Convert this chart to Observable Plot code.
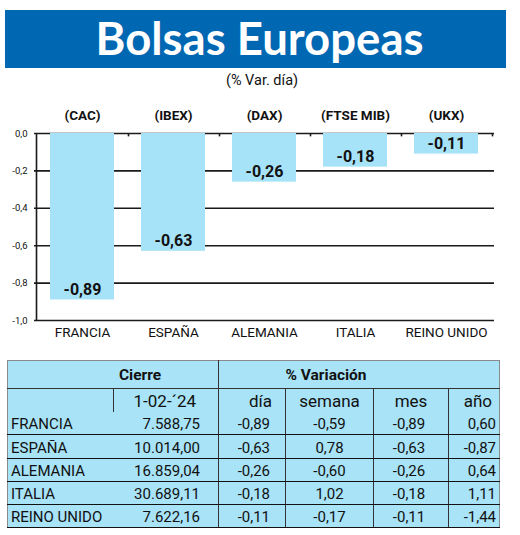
<!DOCTYPE html>
<html>
<head>
<meta charset="utf-8">
<script src="https://cdn.jsdelivr.net/npm/d3@7"></script>
<script src="https://cdn.jsdelivr.net/npm/@observablehq/plot@0.6"></script>
<style>
  html, body { margin: 0; padding: 0; background: #fff; width: 520px; height: 535px; overflow: hidden; }
  body { position: relative; font-family: Roboto, "Noto Sans", sans-serif; }
  #title { position: absolute; left: 5px; top: 10px; width: 501px; height: 58px; background: #0067b3;
           color: #fff; font-family: Lato, "Open Sans", sans-serif; font-weight: 700; font-size: 45.5px;
           line-height: 56px; text-align: center; }
  #title span { position: relative; left: 4px; }
  #subtitle { position: absolute; left: 0; top: 72px; width: 524px; text-align: center; font-size: 14.5px; color: #111; }
  #chart { position: absolute; left: 0; top: 95px; }
  #tbl { position: absolute; left: 7px; top: 360px; width: 492px; height: 168px; border-collapse: collapse;
         background: #a8e3f7; border: 1px solid #8a8a8a; table-layout: fixed; color: #111; }
  #tbl td { padding: 0; white-space: nowrap; overflow: hidden; }
  #tbl tr.h1 td { height: 27px; font-weight: 700; font-size: 15.5px; border-bottom: 1px solid #333; }
  #tbl tr.h2 td { height: 23px; font-size: 17px; }
  #tbl tr.b td { height: 22px; font-size: 15px; border-bottom: 1px solid #111; line-height: 20px; vertical-align: bottom; }
  #tbl .vl { border-left: 1px solid #333; }
</style>
</head>
<body>
<div id="title"><span>Bolsas Europeas</span></div>
<div id="subtitle">(% Var. día)</div>
<div id="chart"></div>
<table id="tbl"></table>
<script>
const paises = ["FRANCIA", "ESPAÑA", "ALEMANIA", "ITALIA", "REINO UNIDO"];
const indices = ["(CAC)", "(IBEX)", "(DAX)", "(FTSE MIB)", "(UKX)"];
const varDia = [-0.89, -0.63, -0.26, -0.18, -0.11];
const yTicks = [0, -0.2, -0.4, -0.6, -0.8, -1.0];

const cierreFecha = "1-02-´24";
const cierre = ["7.588,75", "10.014,00", "16.859,04", "30.689,11", "7.622,16"];
const varSemana = [-0.59, 0.78, -0.60, 1.02, -0.17];
const varMes = [-0.89, -0.63, -0.26, -0.18, -0.11];
const varAnio = [0.60, -0.87, 0.64, 1.11, -1.44];

const fmt = v => v.toFixed(2).replace(".", ",");
const fmt1 = v => v.toFixed(1).replace(".", ",");

const data = paises.map((p, i) => ({pais: p, indice: indices[i], valor: varDia[i]}));
const barColor = "#a6e2f8";
const step = 460 / 5;

const chart = Plot.plot({
  width: 520,
  height: 250,
  marginTop: 38,
  marginBottom: 25,
  marginLeft: 34,
  marginRight: 26,
  style: {fontFamily: "Roboto, 'Noto Sans', sans-serif", color: "#111", background: "transparent"},
  x: {domain: paises, paddingInner: 0.293, paddingOuter: 0.147, label: null},
  y: {domain: [-1, 0], label: null},
  marks: [
    Plot.ruleY(yTicks, {stroke: "#1a1a1a", strokeWidth: 1.6}),
    Plot.barY(data, {x: "pais", y: "valor", fill: barColor}),
    Plot.ruleX(paises, {x: d => d, y1: 0, y2: -0.018, dx: step / 2, stroke: "#1a1a1a", strokeWidth: 1.6}),
    Plot.ruleX([paises[0]], {x: d => d, y1: 0, y2: -1, dx: -step / 2, stroke: "#1a1a1a", strokeWidth: 1.6}),
    Plot.text(data, {x: "pais", y: "valor", text: d => fmt(d.valor), dy: -10, fontSize: 16, fontWeight: 700, fill: "#111"}),
    Plot.text(data, {x: "pais", text: "indice", frameAnchor: "top", dy: -23, fontSize: 13.5, fontWeight: 700, fill: "#111"}),
    Plot.axisY({ticks: yTicks, tickFormat: fmt1, tickSize: 0, tickPadding: 7, fontSize: 9.5, label: null}),
    Plot.axisX({tickSize: 0, tickPadding: 7, fontSize: 13.5, label: null})
  ]
});
document.getElementById("chart").appendChild(chart);

// table
const tbl = document.getElementById("tbl");
const widths = [106, 105, 67, 88, 75, 51];
let html = "<colgroup>" + widths.map(w => `<col style="width:${w}px">`).join("") + "</colgroup>";
html += `<tr class="h1"><td colspan="2" style="text-align:center;padding-left:54px">Cierre</td>` +
        `<td colspan="4" class="vl" style="text-align:center;padding-right:66px">% Variación</td></tr>`;
html += `<tr class="h2"><td></td><td class="vl" style="text-align:right;padding-right:22px">${cierreFecha}</td>` +
        `<td class="vl" style="text-align:right;padding-right:13px">día</td>` +
        `<td class="vl" style="text-align:center">semana</td>` +
        `<td class="vl" style="text-align:center">mes</td>` +
        `<td class="vl" style="text-align:right;padding-right:7px">año</td></tr>`;
paises.forEach((p, i) => {
  html += `<tr class="b"><td style="padding-left:3px">${p}</td>` +
          `<td style="text-align:right;padding-right:18px">${cierre[i]}</td>` +
          `<td class="vl" style="text-align:right;padding-right:15px">${fmt(varDia[i])}</td>` +
          `<td class="vl" style="text-align:center">${fmt(varSemana[i])}</td>` +
          `<td class="vl" style="text-align:center;padding-right:4px">${fmt(varMes[i])}</td>` +
          `<td class="vl" style="text-align:right;padding-right:3px">${fmt(varAnio[i])}</td></tr>`;
});
tbl.innerHTML = html;
</script>
</body>
</html>
